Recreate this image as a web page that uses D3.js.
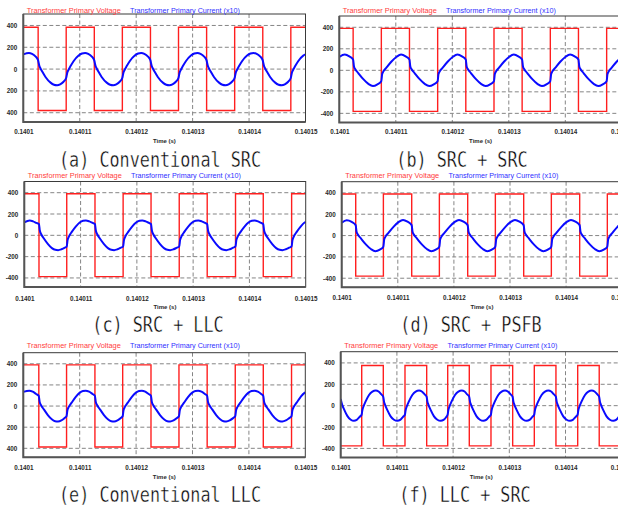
<!DOCTYPE html>
<meta charset="utf-8">
<title>Transformer primary voltage and current</title>
<body>
<script src="https://cdn.jsdelivr.net/npm/d3@7/dist/d3.min.js"></script>
<style>
html, body {
    margin: 0;
    background: #fff;
}
svg {
    display: block;
}
.tick text {
    font: bold 6.3px "Liberation Sans", Arial, sans-serif;
    fill: #2a2a2a;
}
.time-label {
    font: bold 6px "Liberation Sans", Arial, sans-serif;
    fill: #2a2a2a;
}
.legend {
    font: 7px "Liberation Sans", Arial, sans-serif;
}
.caption {
    font-family: "DejaVu Sans Mono", monospace;
    font-size: 20.5px;
    fill: #000;
    stroke: #fff;
    stroke-width: 0.4px;
}
</style>
<script>
var width = 618,
    height = 506;

// time axis in microseconds after t = 0.1401 s
var xTicks = [0, 10, 20, 30, 40, 50];
var xTickLabels = ["0.1401", "0.14011", "0.14012", "0.14013", "0.14014", "0.14015"];
var yTicks = [400, 200, 0, -200, -400];
var yLabelsUnsigned = ["400", "200", "0", "200", "400"];
var yLabelsSigned = ["400", "200", "0", "-200", "-400"];
var legendLabels = ["Transformer Primary Voltage", "Transformer Primary Current (x10)"];
var captions = ["(a) Conventional SRC", "(b) SRC + SRC", "(c) SRC + LLC",
                "(d) SRC + PSFB", "(e) Conventional LLC", "(f) LLC + SRC"];

// voltage: [time (us), level held until next point]
var voltageA = [[0,384],[2.63,-380],[7.6,384],[12.58,-380],[17.55,384],[22.53,-380],[27.5,384],[32.48,-380],[37.45,384],[42.43,-380],[47.4,384],[50,384]];
var voltageB = [[0,390],[2.45,-382],[7.44,390],[12.42,-382],[17.41,390],[22.39,-382],[27.38,390],[32.36,-382],[37.35,390],[42.33,-382],[47.32,390],[50,390]];
var voltageC = [[0,390],[2.61,-388],[7.54,390],[12.56,-388],[17.56,390],[22.52,-388],[27.53,390],[32.5,-388],[37.53,390],[42.46,-388],[47.5,390],[50,390]];
var voltageD = [[0,390],[2.5,-380],[7.43,390],[12.48,-380],[17.41,390],[22.46,-380],[27.39,390],[32.44,-380],[37.37,390],[42.42,-380],[47.35,390],[50,390]];
var voltageE = [[0,390],[2.75,-388],[7.67,390],[12.7,-388],[17.62,390],[22.64,-388],[27.6,390],[32.6,-388],[37.58,390],[42.55,-388],[47.56,390],[50,390]];
var voltageF = [[0,-376],[3.74,376],[7.58,-376],[11.44,376],[15.3,-376],[19.04,376],[22.88,-376],[26.74,376],[30.6,-376],[34.45,376],[38.3,-376],[42.17,376],[46.0,-376],[50,-376]];

// current x10: [time (us), value]
var currentA = [[0,135],[1.0,148],[1.55,140],[2.15,116],[2.61,82],
  [2.83,32],[3.03,8],[3.38,-25],[3.93,-72],[4.83,-124],[5.43,-143],[5.98,-148],[6.53,-140],[7.13,-116],[7.59,-82],
  [7.8,-32],[8.0,-8],[8.35,25],[8.9,72],[9.8,124],[10.4,143],[10.95,148],[11.5,140],[12.1,116],[12.56,82],
  [12.78,32],[12.98,8],[13.33,-25],[13.88,-72],[14.78,-124],[15.38,-143],[15.93,-148],[16.48,-140],[17.08,-116],[17.54,-82],
  [17.75,-32],[17.95,-8],[18.3,25],[18.85,72],[19.75,124],[20.35,143],[20.9,148],[21.45,140],[22.05,116],[22.51,82],
  [22.73,32],[22.93,8],[23.28,-25],[23.83,-72],[24.73,-124],[25.33,-143],[25.88,-148],[26.43,-140],[27.03,-116],[27.49,-82],
  [27.7,-32],[27.9,-8],[28.25,25],[28.8,72],[29.7,124],[30.3,143],[30.85,148],[31.4,140],[32.0,116],[32.46,82],
  [32.68,32],[32.88,8],[33.23,-25],[33.78,-72],[34.68,-124],[35.28,-143],[35.83,-148],[36.38,-140],[36.98,-116],[37.44,-82],
  [37.65,-32],[37.85,-8],[38.2,25],[38.75,72],[39.65,124],[40.25,143],[40.8,148],[41.35,140],[41.95,116],[42.41,82],
  [42.63,32],[42.83,8],[43.18,-25],[43.73,-72],[44.63,-124],[45.23,-143],[45.78,-148],[46.33,-140],[46.93,-116],[47.39,-82],
  [47.6,-32],[47.8,-8],[48.15,25],[48.7,72],[49.6,124],[50,135]];

var currentB = [[0,125],[0.97,146],[1.77,130],[2.44,101],
  [2.6,35],[2.8,12],[3.35,-25],[4.25,-82],[5.15,-126],[5.95,-146],[6.75,-130],[7.43,-101],
  [7.59,-35],[7.79,-12],[8.34,25],[9.24,82],[10.14,126],[10.94,146],[11.74,130],[12.41,101],
  [12.57,35],[12.77,12],[13.32,-25],[14.22,-82],[15.12,-126],[15.92,-146],[16.72,-130],[17.4,-101],
  [17.56,-35],[17.76,-12],[18.31,25],[19.21,82],[20.11,126],[20.91,146],[21.71,130],[22.38,101],
  [22.54,35],[22.74,12],[23.29,-25],[24.19,-82],[25.09,-126],[25.89,-146],[26.69,-130],[27.37,-101],
  [27.53,-35],[27.73,-12],[28.28,25],[29.18,82],[30.08,126],[30.88,146],[31.68,130],[32.35,101],
  [32.51,35],[32.71,12],[33.26,-25],[34.16,-82],[35.06,-126],[35.86,-146],[36.66,-130],[37.34,-101],
  [37.5,-35],[37.7,-12],[38.25,25],[39.15,82],[40.05,126],[40.85,146],[41.65,130],[42.32,101],
  [42.48,35],[42.68,12],[43.23,-25],[44.13,-82],[45.03,-126],[45.83,-146],[46.63,-130],[47.31,-101],
  [47.47,-35],[47.67,-12],[48.22,25],[49.12,82],[50,124]];

var currentC = [[0,122],[0.96,139],[1.56,131],[2.16,116],[2.6,106],
  [2.76,45],[3.01,10],[3.51,-32],[4.21,-82],[4.91,-120],[5.51,-136],[6.01,-139],[6.61,-131],[7.21,-116],[7.53,-106],
  [7.69,-45],[7.94,-10],[8.44,32],[9.14,82],[9.84,120],[10.44,136],[10.94,139],[11.54,131],[12.14,116],[12.55,106],
  [12.71,45],[12.96,10],[13.46,-32],[14.16,-82],[14.86,-120],[15.46,-136],[15.96,-139],[16.56,-131],[17.16,-116],[17.55,-106],
  [17.71,-45],[17.96,-10],[18.46,32],[19.16,82],[19.86,120],[20.46,136],[20.96,139],[21.56,131],[22.16,116],[22.51,106],
  [22.67,45],[22.92,10],[23.42,-32],[24.12,-82],[24.82,-120],[25.42,-136],[25.92,-139],[26.52,-131],[27.12,-116],[27.52,-106],
  [27.68,-45],[27.93,-10],[28.43,32],[29.13,82],[29.83,120],[30.43,136],[30.93,139],[31.53,131],[32.13,116],[32.49,106],
  [32.65,45],[32.9,10],[33.4,-32],[34.1,-82],[34.8,-120],[35.4,-136],[35.9,-139],[36.5,-131],[37.1,-116],[37.52,-106],
  [37.68,-45],[37.93,-10],[38.43,32],[39.13,82],[39.83,120],[40.43,136],[40.93,139],[41.53,131],[42.1,116],[42.45,106],
  [42.61,45],[42.86,10],[43.36,-32],[44.06,-82],[44.76,-120],[45.36,-136],[45.86,-139],[46.46,-131],[47.06,-116],[47.49,-106],
  [47.65,-45],[47.9,-10],[48.4,32],[49.1,82],[49.8,120],[50,126]];

var currentD = [[0,120],[0.89,144],[1.78,129],[2.49,98],
  [2.65,35],[2.85,12],[3.4,-25],[4.3,-82],[5.2,-126],[6.0,-147],[6.8,-132],[7.42,-104],
  [7.58,-35],[7.78,-12],[8.33,25],[9.23,82],[10.13,126],[10.93,146],[11.73,130],[12.47,98],
  [12.63,35],[12.83,12],[13.38,-25],[14.28,-82],[15.18,-126],[15.98,-147],[16.78,-132],[17.4,-104],
  [17.56,-35],[17.76,-12],[18.31,25],[19.21,82],[20.11,126],[20.91,146],[21.71,130],[22.45,98],
  [22.61,35],[22.81,12],[23.36,-25],[24.26,-82],[25.16,-126],[25.96,-147],[26.76,-132],[27.38,-104],
  [27.54,-35],[27.74,-12],[28.29,25],[29.19,82],[30.09,126],[30.89,146],[31.69,130],[32.43,98],
  [32.59,35],[32.79,12],[33.34,-25],[34.24,-82],[35.14,-126],[35.94,-147],[36.74,-132],[37.36,-104],
  [37.52,-35],[37.72,-12],[38.27,25],[39.17,82],[40.07,126],[40.87,146],[41.67,130],[42.41,98],
  [42.57,35],[42.77,12],[43.32,-25],[44.22,-82],[45.12,-126],[45.92,-147],[46.72,-132],[47.34,-104],
  [47.5,-35],[47.7,-12],[48.25,25],[49.15,82],[50,122]];

var currentE = [[0,134],[1.07,146],[1.67,136],[2.27,114],[2.74,97],
  [2.9,40],[3.15,8],[3.65,-32],[4.35,-85],[5.05,-125],[5.65,-143],[6.15,-146],[6.75,-136],[7.3,-114],[7.66,-97],
  [7.82,-40],[8.07,-8],[8.57,32],[9.27,85],[9.97,125],[10.57,143],[11.07,146],[11.67,136],[12.27,114],[12.69,97],
  [12.85,40],[13.1,8],[13.6,-32],[14.3,-85],[15.0,-125],[15.6,-143],[16.1,-146],[16.7,-136],[17.28,-114],[17.61,-97],
  [17.77,-40],[18.02,-8],[18.52,32],[19.22,85],[19.92,125],[20.52,143],[21.02,146],[21.62,136],[22.22,114],[22.63,97],
  [22.79,40],[23.04,8],[23.54,-32],[24.24,-85],[24.94,-125],[25.54,-143],[26.04,-146],[26.64,-136],[27.24,-114],[27.59,-97],
  [27.75,-40],[28.0,-8],[28.5,32],[29.2,85],[29.9,125],[30.5,143],[31.0,146],[31.6,136],[32.2,114],[32.59,97],
  [32.75,40],[33.0,8],[33.5,-32],[34.2,-85],[34.9,-125],[35.5,-143],[36.0,-146],[36.6,-136],[37.2,-114],[37.57,-97],
  [37.73,-40],[37.98,-8],[38.48,32],[39.18,85],[39.88,125],[40.48,143],[40.98,146],[41.58,136],[42.18,114],[42.54,97],
  [42.7,40],[42.95,8],[43.45,-32],[44.15,-85],[44.85,-125],[45.45,-143],[45.95,-146],[46.55,-136],[47.15,-114],[47.55,-97],
  [47.71,-40],[47.96,-8],[48.46,32],[49.16,85],[49.86,125],[50,129]];

var currentF = [[0,62],[0.25,10],[0.65,-40],[1.2,-98],[1.8,-132],[2.35,-142],[2.85,-133],[3.35,-106],[3.72,-85],
  [3.86,-40],[4.04,-10],[4.44,40],[5.04,100],[5.64,132],[6.24,142],[6.74,133],[7.24,105],[7.56,85],
  [7.7,40],[7.88,10],[8.28,-40],[8.88,-100],[9.48,-132],[10.08,-142],[10.58,-133],[11.08,-105],[11.42,-85],
  [11.56,-40],[11.74,-10],[12.14,40],[12.74,100],[13.34,132],[13.94,142],[14.44,133],[14.94,105],[15.28,85],
  [15.42,40],[15.6,10],[16.0,-40],[16.6,-100],[17.2,-132],[17.8,-142],[18.3,-133],[18.75,-108],[19.02,-85],
  [19.16,-40],[19.34,-10],[19.74,40],[20.34,100],[20.94,132],[21.54,142],[22.04,133],[22.5,105],[22.86,85],
  [23.0,40],[23.18,10],[23.58,-40],[24.18,-100],[24.78,-132],[25.38,-142],[25.88,-133],[26.38,-105],[26.72,-85],
  [26.86,-40],[27.04,-10],[27.44,40],[28.04,100],[28.64,132],[29.24,142],[29.74,133],[30.24,105],[30.58,85],
  [30.72,40],[30.9,10],[31.3,-40],[31.9,-100],[32.5,-132],[33.1,-142],[33.6,-133],[34.1,-105],[34.43,-85],
  [34.57,-40],[34.75,-10],[35.15,40],[35.75,100],[36.35,132],[36.95,142],[37.45,133],[37.95,105],[38.28,85],
  [38.42,40],[38.6,10],[39.0,-40],[39.6,-100],[40.2,-132],[40.8,-142],[41.3,-133],[41.8,-105],[42.15,-85],
  [42.29,-40],[42.47,-10],[42.87,40],[43.47,100],[44.07,132],[44.67,142],[45.17,133],[45.67,105],[45.98,85],
  [46.12,40],[46.3,10],[46.7,-40],[47.3,-100],[47.9,-132],[48.5,-142],[49.0,-133],[49.5,-105],[50,-80]];

// layout of each panel (pixels)
var rows = [
    { legend: 12.8, tickY: 134, timeY: 143.3, capY: 166.5 },
    { legend: 178, tickY: 300.5, timeY: 309, capY: 332 },
    { legend: 348.2, tickY: 470, timeY: 479, capY: 501.5 }
];

var panels = [
    { row: 0, volt: voltageA, curr: currentA, yLabels: yLabelsUnsigned, x0: 23.3, x1: 305.5, top: 14, bottom: 122, capX: 160 },
    { row: 0, volt: voltageB, curr: currentB, yLabels: yLabelsSigned, x0: 339.3, x1: 621.8, top: 16, bottom: 122.5, capX: 462 },
    { row: 1, volt: voltageC, curr: currentC, yLabels: yLabelsSigned, x0: 24.3, x1: 305.7, top: 181.5, bottom: 287, capX: 158 },
    { row: 1, volt: voltageD, curr: currentD, yLabels: yLabelsSigned, x0: 341.7, x1: 622.2, top: 181.7, bottom: 287.3, capX: 471 },
    { row: 2, volt: voltageE, curr: currentE, yLabels: yLabelsUnsigned, x0: 23.3, x1: 305.3, top: 352.7, bottom: 457.3, capX: 160 },
    { row: 2, volt: voltageF, curr: currentF, yLabels: yLabelsSigned, x0: 340.7, x1: 621.7, top: 351.7, bottom: 457.5, capX: 465 }
];

var svg = d3.select("body").append("svg")
    .attr("width", width)
    .attr("height", height);

panels.forEach(function(p, i) {
    var r = rows[p.row];
    var x = d3.scaleLinear().domain([0, 50]).range([p.x0, p.x1]);
    var y = d3.scaleLinear().domain([-485, 505]).range([p.bottom, p.top]);
    var g = svg.append("g");

    g.append("clipPath").attr("id", "clip" + i)
      .append("rect")
        .attr("x", p.x0).attr("y", p.top)
        .attr("width", p.x1 - p.x0).attr("height", p.bottom - p.top);

    // dashed grid
    g.selectAll(".hgrid").data(yTicks)
      .enter().append("line")
        .attr("x1", p.x0).attr("x2", p.x1)
        .attr("y1", y).attr("y2", y)
        .attr("stroke", "#858585")
        .attr("stroke-dasharray", "4,2.5");
    g.selectAll(".vgrid").data(xTicks.slice(1, -1))
      .enter().append("line")
        .attr("x1", x).attr("x2", x)
        .attr("y1", p.top).attr("y2", p.bottom)
        .attr("stroke", "#858585")
        .attr("stroke-dasharray", "4,2.5");

    var plot = g.append("g").attr("clip-path", "url(#clip" + i + ")");

    plot.append("path")
        .datum(p.volt)
        .attr("fill", "none")
        .attr("stroke", "#ff1f1f")
        .attr("stroke-width", 1.4)
        .attr("d", d3.line()
            .x(function(d) { return x(d[0]); })
            .y(function(d) { return y(d[1]); })
            .curve(d3.curveStepAfter));

    plot.append("path")
        .datum(p.curr)
        .attr("fill", "none")
        .attr("stroke", "#0a0aff")
        .attr("stroke-width", 2)
        .attr("stroke-linejoin", "round")
        .attr("d", d3.line()
            .x(function(d) { return x(d[0]); })
            .y(function(d) { return y(d[1]); })
            .curve(d3.curveMonotoneX));

    // frame: thin top/right, heavier left/bottom
    g.append("rect")
        .attr("x", p.x0).attr("y", p.top)
        .attr("width", p.x1 - p.x0).attr("height", p.bottom - p.top)
        .attr("fill", "none")
        .attr("stroke", "#3a3a3a");
    g.append("path")
        .attr("d", "M" + p.x0 + "," + p.top + "V" + p.bottom + "H" + p.x1)
        .attr("fill", "none")
        .attr("stroke", "#555")
        .attr("stroke-width", 2);

    // axes
    var xAxis = g.append("g")
        .attr("transform", "translate(0," + p.bottom + ")")
        .call(d3.axisBottom(x)
            .tickValues(xTicks)
            .tickSize(0)
            .tickFormat(function(d, k) { return xTickLabels[k]; }));
    xAxis.select(".domain").remove();
    xAxis.selectAll("text")
        .attr("y", r.tickY - p.bottom)
        .attr("dy", 0)
        .attr("fill", null);

    var yAxis = g.append("g")
        .attr("transform", "translate(" + p.x0 + ",0)")
        .call(d3.axisLeft(y)
            .tickValues(yTicks)
            .tickSize(0)
            .tickPadding(6)
            .tickFormat(function(d, k) { return p.yLabels[k]; }));
    yAxis.select(".domain").remove();
    yAxis.selectAll("text").attr("fill", null);

    g.append("text")
        .attr("class", "time-label")
        .attr("x", (p.x0 + p.x1) / 2)
        .attr("y", r.timeY)
        .attr("text-anchor", "middle")
        .text("Time (s)");

    // legend
    g.append("text")
        .attr("class", "legend")
        .attr("x", p.x0 + 3.5)
        .attr("y", r.legend)
        .attr("fill", "#ff3c3c")
        .attr("textLength", 94)
        .attr("lengthAdjust", "spacingAndGlyphs")
        .text(legendLabels[0]);
    g.append("text")
        .attr("class", "legend")
        .attr("x", p.x0 + 106.7)
        .attr("y", r.legend)
        .attr("fill", "#3030ff")
        .attr("textLength", 110)
        .attr("lengthAdjust", "spacingAndGlyphs")
        .text(legendLabels[1]);

    g.append("text")
        .attr("class", "caption")
        .attr("x", p.capX)
        .attr("y", r.capY)
        .attr("text-anchor", "middle")
        .attr("textLength", captions[i].length * 10.1)
        .attr("lengthAdjust", "spacingAndGlyphs")
        .text(captions[i]);
});
</script>
